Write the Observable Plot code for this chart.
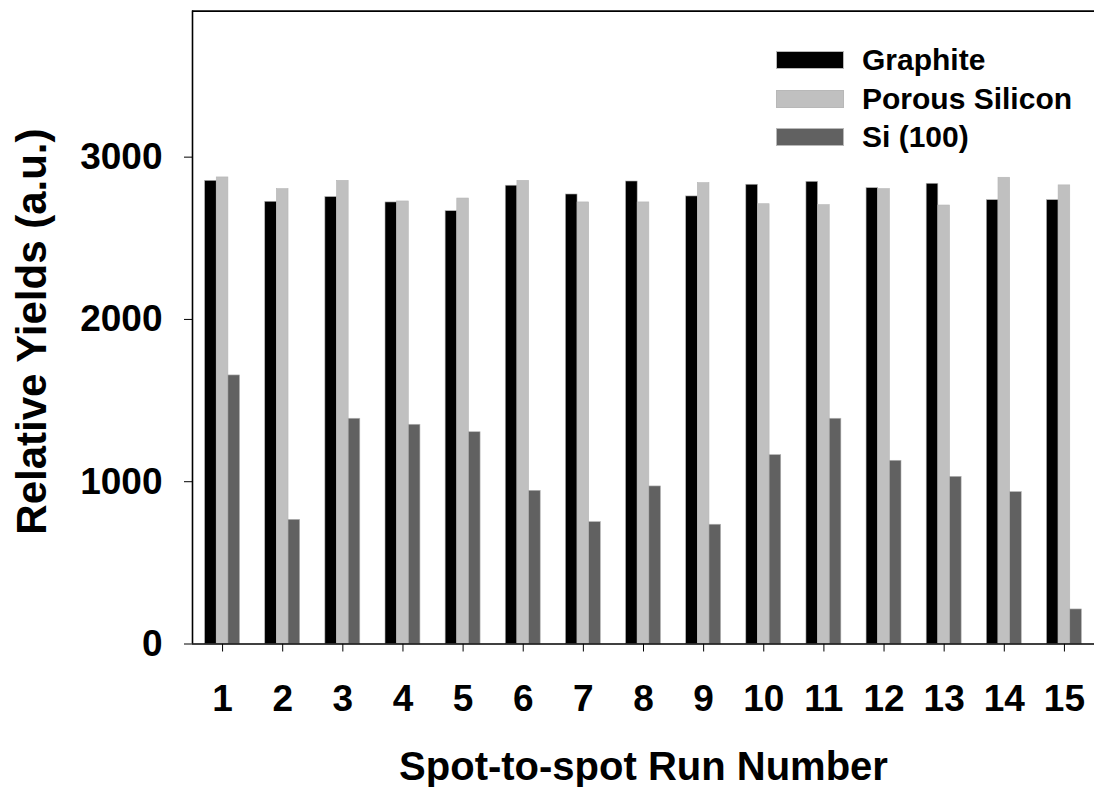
<!DOCTYPE html>
<html><head><meta charset="utf-8">
<script src="https://cdn.jsdelivr.net/npm/d3@7"></script>
<script src="https://cdn.jsdelivr.net/npm/@observablehq/plot@0.6"></script>
<style>
html,body{margin:0;padding:0;background:#fff;}
#wrap{position:relative;width:1094px;height:787px;font-family:"Liberation Sans",Arial,sans-serif;font-weight:bold;color:#000;}
.legend{position:absolute;left:776px;top:41px;}
.row{display:flex;align-items:center;height:38.5px;}
.sw{width:68px;height:18px;margin-right:18px;box-sizing:border-box;border:1px solid #b8b8b8;}
.lab{font-size:30px;line-height:1;}
</style></head><body><div id="wrap"></div>
<script>
const runs = [1,2,3,4,5,6,7,8,9,10,11,12,13,14,15];
const seriesNames = ["Graphite","Porous Silicon","Si (100)"];
const seriesColors = ["#000000","#c0c0c0","#616161"];
const graphite = [2854,2725,2754,2721,2667,2824,2770,2850,2758,2830,2848,2809,2836,2735,2735];
const porousSilicon = [2875,2803,2854,2727,2745,2854,2721,2721,2840,2710,2704,2803,2702,2873,2826];
const si100 = [1655,765,1388,1351,1305,944,751,971,735,1164,1388,1129,1030,936,213];
const yTicks = [0,1000,2000,3000];

const seriesValues = [graphite, porousSilicon, si100];
// bar layout within each run group (fraction of one run step)
const barW = 0.1937;
const groupStart = -1.5 * barW;
const rows = [];
runs.forEach((r, i) => {
  seriesValues.forEach((vals, s) => {
    rows.push({run: r, series: seriesNames[s], value: vals[i],
      x1: r + groupStart + s * barW, x2: r + groupStart + (s + 1) * barW});
  });
});

const font = '"Liberation Sans", Arial, sans-serif';
const chart = Plot.plot({
  width: 1094, height: 787,
  marginLeft: 192, marginRight: 0, marginTop: 10.6, marginBottom: 143.5,
  style: {fontFamily: font, fontWeight: "bold", fontSize: "37px", background: "#fff", color: "#000"},
  x: {type: "linear", domain: [0.5, 15.5], ticks: runs, tickFormat: "d", tickSize: 8, tickPadding: 33, label: null},
  y: {domain: [0, 3900], ticks: yTicks, tickFormat: "d", tickSize: 8, tickPadding: 22, label: null},
  color: {domain: seriesNames, range: seriesColors},
  marks: [
    Plot.rectY(rows, {x1: "x1", x2: "x2", y: "value", fill: "series", stroke: "#b5b5b5", strokeWidth: 0.6}),
    Plot.ruleY([0], {strokeWidth: 1.6}),
    Plot.ruleY([3900], {strokeWidth: 1.6}),
    Plot.ruleX([0.5], {strokeWidth: 1.6}),
    Plot.text(["Spot-to-spot Run Number"], {text: d => d, frameAnchor: "bottom", dy: 136, fontSize: 40, fontWeight: "bold"}),
    Plot.text(["Relative Yields (a.u.)"], {text: d => d, frameAnchor: "left", textAnchor: "middle", rotate: -90, dx: -160, dy: 4, fontSize: 42, fontWeight: "bold"})
  ]
});
const wrap = document.getElementById("wrap");
wrap.appendChild(chart);

const legend = document.createElement("div");
legend.className = "legend";
seriesNames.forEach((name, i) => {
  const row = document.createElement("div");
  row.className = "row";
  const sw = document.createElement("div");
  sw.className = "sw";
  sw.style.background = seriesColors[i];
  const lab = document.createElement("span");
  lab.className = "lab";
  lab.textContent = name;
  row.appendChild(sw); row.appendChild(lab);
  legend.appendChild(row);
});
wrap.appendChild(legend);
</script>
</body></html>
